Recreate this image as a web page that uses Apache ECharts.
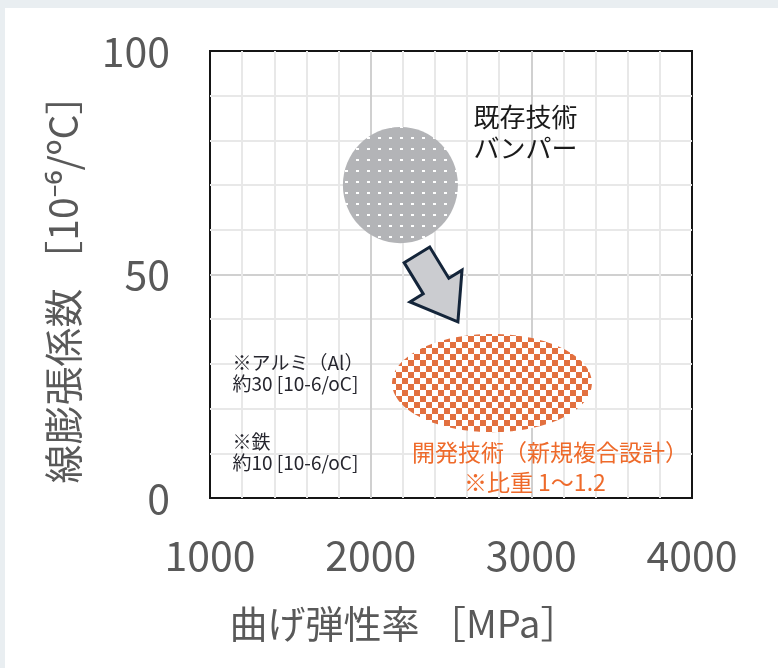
<!DOCTYPE html>
<html>
<head>
<meta charset="utf-8">
<script src="https://cdn.jsdelivr.net/npm/echarts@6/dist/echarts.min.js"></script>
<style>
  html, body { margin: 0; padding: 0; background: #fff; }
  #chart { width: 778px; height: 668px; }
</style>
</head>
<body>
<div id="chart"></div>
<script>
// axis ranges and ticks
var xTicks = [1000, 2000, 3000, 4000];
var yTicks = [0, 50, 100];

// regions: [center x (MPa), center y (10^-6/oC), radius x (MPa), radius y]
var existingBumper = [[2185, 70.0, 358, 13.0]];
var newDesign = [[2755, 25.7, 622, 11.0]];

// arrow from old to new: [x0, y0, x1, y1]
var arrowData = [[2288, 54.4, 2543, 39.4]];

// notes: [x, y, text]
var blackNotes = [[2640, 81.8, '既存技術\nバンパー']];
var grayNotes = [
  [1140, 28.0, '※アルミ（Al）\n約30 [10-6/oC]'],
  [1140, 10.2, '※鉄\n約10 [10-6/oC]']
];
var orangeNotes = [
  [3116, 10.3, '開発技術（新規複合設計）'],
  [3022, 3.6, '※比重 1〜1.2']
];

var FONT = '"Noto Sans CJK JP", "Noto Sans", sans-serif';

function makeDots() {
  var c = document.createElement('canvas');
  c.width = 11; c.height = 11;
  var g = c.getContext('2d');
  g.fillStyle = '#b3b4b7';
  g.fillRect(0, 0, 11, 11);
  g.fillStyle = '#ffffff';
  g.fillRect(4, 5, 3, 2);
  return c;
}
function makeChecker() {
  var c = document.createElement('canvas');
  c.width = 12; c.height = 12;
  var g = c.getContext('2d');
  g.fillStyle = '#ffffff';
  g.fillRect(0, 0, 12, 12);
  g.fillStyle = '#e2703f';
  g.fillRect(0, 0, 6, 6);
  g.fillRect(6, 6, 6, 6);
  return c;
}
var dotPattern = { image: makeDots(), repeat: 'repeat' };
var checkPattern = { image: makeChecker(), repeat: 'repeat' };

function ellipseRender(fill) {
  return function (params, api) {
    var c = api.coord([api.value(0), api.value(1)]);
    var s = api.size([api.value(2), api.value(3)]);
    return {
      type: 'ellipse',
      shape: { cx: c[0], cy: c[1], rx: s[0], ry: s[1] },
      style: { fill: fill }
    };
  };
}

function arrowRender(params, api) {
  var p0 = api.coord([api.value(0), api.value(1)]);
  var p1 = api.coord([api.value(2), api.value(3)]);
  var dx = p1[0] - p0[0], dy = p1[1] - p0[1];
  var len = Math.sqrt(dx * dx + dy * dy);
  var ux = dx / len, uy = dy / len;
  var nx = -uy, ny = ux;
  var w = 15, h = 30.5, L = 42;
  var bx = p1[0] - ux * L, by = p1[1] - uy * L;
  var pts = [
    [p0[0] + nx * w, p0[1] + ny * w],
    [bx + nx * w, by + ny * w],
    [bx + nx * h, by + ny * h],
    [p1[0], p1[1]],
    [bx - nx * h, by - ny * h],
    [bx - nx * w, by - ny * w],
    [p0[0] - nx * w, p0[1] - ny * w]
  ];
  return {
    type: 'polygon',
    shape: { points: pts },
    style: { fill: '#cbccd0', stroke: '#14253a', lineWidth: 3, lineJoin: 'miter' }
  };
}

function textRender(list, opts) {
  return function (params, api) {
    var d = list[params.dataIndex];
    var c = api.coord([d[0], d[1]]);
    return {
      type: 'text',
      x: c[0], y: c[1],
      style: {
        text: d[2],
        fill: opts.color,
        font: opts.weight + ' ' + opts.size + 'px ' + FONT,
        lineHeight: opts.lineHeight,
        align: opts.align,
        verticalAlign: 'middle'
      }
    };
  };
}

var chart = echarts.init(document.getElementById('chart'));
var option = {
  backgroundColor: '#ffffff',
  animation: false,
  graphic: [
    { type: 'rect', left: 0, top: 0, shape: { width: 778, height: 8 }, style: { fill: '#e9eef1' }, z: -10 },
    { type: 'rect', left: 0, top: 0, shape: { width: 5, height: 668 }, style: { fill: '#e9eef1' }, z: -10 }
  ],
  grid: {
    left: 210, right: 86, top: 51, bottom: 170,
    show: true, borderColor: '#151515', borderWidth: 2, backgroundColor: 'transparent'
  },
  xAxis: {
    type: 'value',
    min: xTicks[0], max: xTicks[xTicks.length - 1], interval: 1000,
    name: '曲げ弾性率 ［MPa］',
    nameLocation: 'middle', nameGap: 107,
    nameTextStyle: { fontSize: 38, color: '#595959', fontFamily: FONT, padding: [0, 94, 0, 0] },
    axisLine: { show: false },
    axisTick: { show: false },
    axisLabel: { fontSize: 41, color: '#595959', fontFamily: FONT, margin: 37,
      formatter: function (v) { return String(v); } },
    splitLine: { show: true, showMinLine: false, showMaxLine: false, lineStyle: { color: '#d0d0d0', width: 2 } },
    minorTick: { show: false, splitNumber: 5 },
    minorSplitLine: { show: true, lineStyle: { color: '#e8e8e8', width: 2 } }
  },
  yAxis: {
    type: 'value',
    min: yTicks[0], max: yTicks[yTicks.length - 1], interval: 50,
    name: '線膨張係数 ［10⁻⁶/ºC］',
    nameLocation: 'middle', nameGap: 127, nameRotate: 90,
    nameTextStyle: { fontSize: 39, color: '#595959', fontFamily: FONT, padding: [0, 10, 0, 0] },
    axisLine: { show: false },
    axisTick: { show: false },
    axisLabel: { fontSize: 41, color: '#595959', fontFamily: FONT, margin: 40 },
    splitLine: { show: true, showMinLine: false, showMaxLine: false, lineStyle: { color: '#d0d0d0', width: 2 } },
    minorTick: { show: false, splitNumber: 5 },
    minorSplitLine: { show: true, lineStyle: { color: '#e8e8e8', width: 2 } }
  },
  series: [
    { type: 'custom', name: '既存技術', renderItem: ellipseRender(dotPattern), data: existingBumper, z: 3 },
    { type: 'custom', name: '開発技術', renderItem: ellipseRender(checkPattern), data: newDesign, z: 3 },
    { type: 'custom', name: 'arrow', renderItem: arrowRender, data: arrowData, z: 4 },
    { type: 'custom', name: 'notesBlack', data: blackNotes.map(function (d) { return [d[0], d[1]]; }),
      renderItem: textRender(blackNotes, { color: '#1a1a1a', size: 26, weight: 'normal', lineHeight: 31, align: 'left' }), z: 5 },
    { type: 'custom', name: 'notesGray', data: grayNotes.map(function (d) { return [d[0], d[1]]; }),
      renderItem: textRender(grayNotes, { color: '#26262e', size: 19, weight: 'normal', lineHeight: 21, align: 'left' }), z: 5 },
    { type: 'custom', name: 'notesOrange', data: orangeNotes.map(function (d) { return [d[0], d[1]]; }),
      renderItem: textRender(orangeNotes, { color: '#ee6a2a', size: 23, weight: 'normal', lineHeight: 28, align: 'center' }), z: 5 }
  ]
};
chart.setOption(option);
</script>
</body>
</html>
